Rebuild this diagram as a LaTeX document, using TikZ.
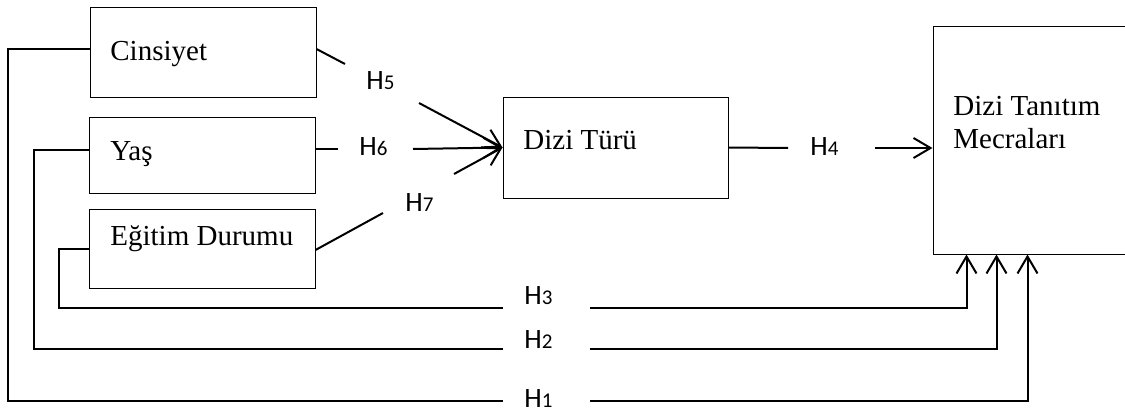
\documentclass[tikz,border=0pt]{standalone}
\usepackage{fontspec}
\setmainfont{Liberation Serif}
\newfontfamily\hfont{Carlito}
\usetikzlibrary{arrows.meta}
\newcommand\Hlab[1]{H{\fontsize{10.5}{12}\selectfont #1}}
\tikzset{
  box/.style={draw, line width=0.5pt, inner sep=0pt, minimum width=113pt},
  conn/.style={line width=1pt},
  arr/.style={conn, -{Straight Barb[length=8.5pt,width=10pt]}},
  tl/.style={inner sep=0pt, anchor=base west, font=\fontsize{14.5}{17}\selectfont},
  hl/.style={inner sep=0pt, anchor=base west, font=\hfont\fontsize{14}{16}\selectfont},
}
\begin{document}
\begin{tikzpicture}[x=0.5pt, y=-0.5pt]
\useasboundingbox (0,0) rectangle (1125,412);
\clip (0,0) rectangle (1125,412);
% boxes
\node[box, minimum height=45pt] (cins) at (203,52) {};
\node[box, minimum height=38pt] (yas) at (202,155) {};
\node[box, minimum height=39.5pt] (egit) at (202,248.5) {};
\node[box, minimum width=112.5pt, minimum height=50.5pt] (tur) at (615.5,147.5) {};
\node[box, minimum width=133.5pt, minimum height=114pt] (mec) at (1066.5,140) {};
% texts
\node[tl] (tcins) at (110,61) {Cinsiyet};
\node[tl] (tyas) at (110,160) {Yaş};
\node[tl] (tegit) at (110,245) {Eğitim Durumu};
\node[tl] (ttur) at (523,149) {Dizi Türü};
\node[tl] (tmec1) at (953,115) {Dizi Tanıtım};
\node[tl] (tmec2) at (953,148) {Mecraları};
% H labels
\node[hl] (h5) at (366,90) {\Hlab{5}};
\node[hl] (h6) at (359,155) {\Hlab{6}};
\node[hl] (h7) at (405,211) {\Hlab{7}};
\node[hl] (h4) at (810,155) {\Hlab{4}};
\node[hl] (h3) at (524,304) {\Hlab{3}};
\node[hl] (h2) at (524,348) {\Hlab{2}};
\node[hl] (h1) at (524,407) {\Hlab{1}};
% free ends
\coordinate (e5) at (345,64);
\coordinate (s5) at (419,103);
\coordinate (e6) at (338,149);
\coordinate (s6) at (413,149);
\coordinate (e7) at (383,213);
\coordinate (s7) at (454,174);
\coordinate (e4) at (788,148);
\coordinate (s4) at (875,148);
\coordinate (a3) at (503,307.5);
\coordinate (b3) at (590,307.5);
\coordinate (a2) at (503,349);
\coordinate (b2) at (590,349);
\coordinate (a1) at (503,401);
\coordinate (b1) at (590,401);
% H5, H6, H7
\draw[conn] ([yshift=1.5pt]cins.east) -- (e5);
\draw[arr] (s5) -- (tur.west);
\draw[conn] ([yshift=3pt]yas.east) -- (e6);
\draw[arr] (s6) -- (tur.west);
\draw[conn] ([yshift=-0.75pt]egit.east) -- (e7);
\draw[arr] (s7) -- (tur.west);
% H4
\draw[conn] (tur.east) -- (e4);
\draw[arr] (s4) -- ([yshift=-4pt]mec.west);
% H1, H2, H3
\draw[conn] ([yshift=1.5pt]cins.west) -| (8,401) -- (a1);
\draw[conn] ([yshift=2.5pt]yas.west) -| (34,349) -- (a2);
\draw[conn] (egit.west) -| (59,307.5) -- (a3);
\draw[arr] (b3) -| ([xshift=17pt]mec.south west);
\draw[arr] (b2) -| ([xshift=32pt]mec.south west);
\draw[arr] (b1) -| ([xshift=47.5pt]mec.south west);
\end{tikzpicture}
\end{document}
